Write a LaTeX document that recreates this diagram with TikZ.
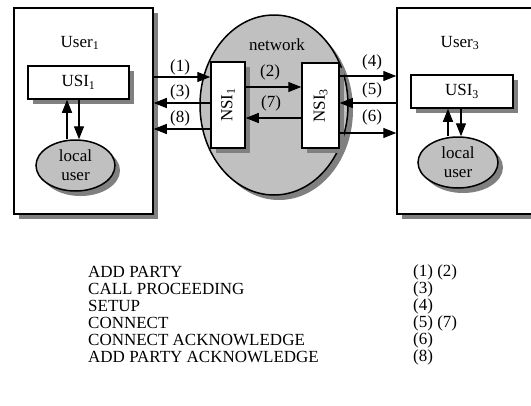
\documentclass[tikz,border=0pt]{standalone}
\usepackage{fontspec}
\setmainfont{Liberation Serif}
\usetikzlibrary{arrows.meta,shadows,shapes.geometric}
\definecolor{shadowgray}{HTML}{808080}
\definecolor{fillgray}{HTML}{C0C0C0}
\tikzset{
  shd/.style={drop shadow={shadow xshift=5pt,shadow yshift=-5pt,fill=shadowgray,opacity=1}},
  userbox/.style={draw,line width=1.5pt,fill=white,rectangle,inner sep=0pt,shd},
  sibox/.style={draw,line width=1.5pt,fill=white,rectangle,inner sep=0pt,shd,font=\fontsize{17}{19}\selectfont},
  lu/.style={draw,line width=1.5pt,fill=fillgray,ellipse,inner sep=0pt,shd,align=center,font=\fontsize{17}{19}\selectfont},
  lbl/.style={font=\fontsize{17}{19}\selectfont,inner sep=0pt},
  arr/.style={line width=1.2pt,-{Triangle[length=13pt,width=10pt]}},
  tab/.style={font=\fontsize{17}{17}\selectfont,inner sep=0pt,anchor=west},
}
\begin{document}
\begin{tikzpicture}[x=1pt,y=-1pt]
\clip (0,0) rectangle (531,405);
\fill[white] (0,0) rectangle (531,405);
% users
\node[userbox,minimum width=139pt,minimum height=206pt] (u1) at (83.5,111) {};
\node[userbox,minimum width=143pt,minimum height=206pt] (u3) at (468.5,111) {};
\node[lbl] (t1) at (80,43) {User\textsubscript{1}};
\node[lbl] (t3) at (460,43) {User\textsubscript{3}};
% network
\node[draw,line width=1.5pt,fill=fillgray,ellipse,inner sep=0pt,shd,minimum width=148pt,minimum height=180pt] (net) at (274,105) {};
\node[lbl] (nt) at (277,45) {network};
% interfaces
\node[sibox,minimum width=101pt,minimum height=33pt] (usi1) at (78.5,82.5) {USI\textsubscript{1}};
\node[sibox,minimum width=102pt,minimum height=33pt] (usi3) at (462,91.5) {USI\textsubscript{3}};
\node[sibox,minimum width=34pt,minimum height=86pt] (nsi1) at (228,105) {};
\node[lbl,rotate=90] (nsi1t) at (nsi1) {NSI\textsubscript{1}};
\node[sibox,minimum width=37pt,minimum height=85pt] (nsi3) at (320.5,105.5) {};
\node[lbl,rotate=90] (nsi3t) at (nsi3) {NSI\textsubscript{3}};
% local users
\node[lu,minimum width=79pt,minimum height=51pt] (lu1) at (75.5,165.5) {local\\user};
\node[lu,minimum width=80pt,minimum height=51pt] (lu3) at (458,162.5) {local\\user};
% usi <-> local user
\draw[arr] (lu1.north -| 67,0) -- (usi1.south -| 67,0);
\draw[arr] (usi1.south -| 79,0) -- (lu1.north -| 79,0);
\draw[arr] (lu3.north -| 448,0) -- (usi3.south -| 448,0);
\draw[arr] (usi3.south -| 461,0) -- (lu3.north -| 461,0);
% messages left
\draw[arr] (u1.east |- 0,77) -- (nsi1.west |- 0,77);
\draw[arr] (nsi1.west |- 0,103) -- (u1.east |- 0,103);
\draw[arr] (nsi1.west |- 0,129) -- (u1.east |- 0,129);
\node[lbl] (l1) at (180,67) {(1)};
\node[lbl] (l3) at (180,92) {(3)};
\node[lbl] (l8) at (180,118) {(8)};
% messages middle
\draw[arr] (nsi1.east |- 0,87) -- (nsi3.west |- 0,87);
\draw[arr] (nsi3.west |- 0,118) -- (nsi1.east |- 0,118);
\node[lbl] (l2) at (270,72) {(2)};
\node[lbl] (l7) at (271,103) {(7)};
% messages right
\draw[arr] (nsi3.east |- 0,76) -- (u3.west |- 0,76);
\draw[arr] (u3.west |- 0,103) -- (nsi3.east |- 0,103);
\draw[arr] (nsi3.east |- 0,133) -- (u3.west |- 0,133);
\node[lbl] (l4) at (372,62) {(4)};
\node[lbl] (l5) at (372,90) {(5)};
\node[lbl] (l6) at (372,117) {(6)};
% table
\node[tab] (a1) at (88,272) {ADD PARTY};
\node[tab] (a2) at (88,289) {CALL PROCEEDING};
\node[tab] (a3) at (88,306) {SETUP};
\node[tab] (a4) at (88,323) {CONNECT};
\node[tab] (a5) at (88,340) {CONNECT ACKNOWLEDGE};
\node[tab] (a6) at (88,357) {ADD PARTY ACKNOWLEDGE};
\node[tab] (b1) at (413,272) {(1) (2)};
\node[tab] (b2) at (413,289) {(3)};
\node[tab] (b3) at (413,306) {(4)};
\node[tab] (b4) at (413,323) {(5) (7)};
\node[tab] (b5) at (413,340) {(6)};
\node[tab] (b6) at (413,357) {(8)};
\end{tikzpicture}
\end{document}
